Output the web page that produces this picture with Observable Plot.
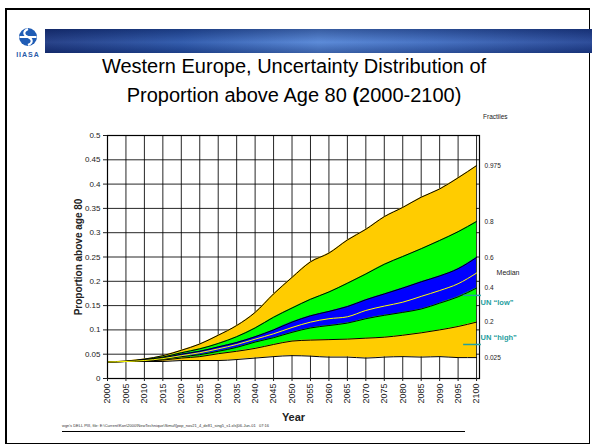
<!DOCTYPE html>
<html><head><meta charset="utf-8">
<script src="https://cdn.jsdelivr.net/npm/d3@7"></script>
<script src="https://cdn.jsdelivr.net/npm/@observablehq/plot@0.6"></script>
<style>
body{margin:0;background:#fff;font-family:"Liberation Sans",Arial,sans-serif;}
#slide{position:relative;width:592px;height:446px;overflow:hidden;background:#fff;}
#frame{position:absolute;left:5px;top:8px;width:582px;height:433px;border:2px solid #000;border-right-width:1px;border-bottom-width:1px;}
#banner{position:absolute;left:45px;top:29px;width:547px;height:24px;
 background:linear-gradient(90deg,#17337f 0%,#2451a8 25%,#4f82d6 50%,#3a69c0 70%,#1d3f92 100%);}
#banner2{position:absolute;left:45px;top:29px;width:547px;height:24px;
 background:linear-gradient(180deg,rgba(10,20,60,0.35) 0%,rgba(255,255,255,0.08) 55%,rgba(10,20,60,0.3) 100%);}
.title{position:absolute;left:0;width:582px;text-align:center;font-size:20px;color:#000;white-space:nowrap;}
#chart{position:absolute;left:0;top:110px;}
#fractiles{position:absolute;left:483px;top:113px;font-size:6.5px;color:#222;}
#footer{position:absolute;left:62px;top:423px;font-size:4px;color:#333;white-space:nowrap;}
#footline{position:absolute;left:62px;top:431px;width:403px;height:0;border-top:1px solid #000;}
</style></head><body>
<div id="slide">
 <div id="frame"></div>
 <div id="banner"></div><div id="banner2"></div>
 <svg style="position:absolute;left:15px;top:27px" width="28" height="34" viewBox="0 0 28 34">
  <circle cx="13" cy="10" r="9" fill="#1f5cb5"/>
  <path d="M4.5 9 H21.5 V11 H4.5 Z" fill="#fff"/>
  <path d="M13 2 C8 4 8 8 13 10 C18 12 18 16 13 18" stroke="#fff" stroke-width="2" fill="none"/>
  <text x="13" y="30" text-anchor="middle" font-size="7" font-family="Liberation Sans,Arial" font-weight="bold" fill="#2a5aa8" letter-spacing="1">IIASA</text>
 </svg>
 <div class="title" style="top:55px;left:3px">Western Europe, Uncertainty Distribution of</div>
 <div class="title" style="top:84px;left:3px">Proportion above Age 80 <b>(</b>2000-2100)</div>
 <div id="fractiles">Fractiles</div>
 <div id="chart"></div>
 <div id="footer">wgn's DELL PIII, file: E:\Current\Kon\2000\NewTechnique\Simul\[pop_nov21_4_de81_sing5_s1.xls]06-Jun-01 &nbsp;&nbsp;07:16</div>
 <div id="footline"></div>
</div>
<script>
const years = [2000,2005,2010,2015,2020,2025,2030,2035,2040,2045,2050,2055,2060,2065,2070,2075,2080,2085,2090,2095,2100];
const p975 = [0.034,0.036,0.040,0.047,0.058,0.071,0.089,0.109,0.136,0.174,0.208,0.240,0.258,0.285,0.307,0.333,0.352,0.373,0.390,0.413,0.438];
const p80  = [0.034,0.035,0.039,0.044,0.053,0.061,0.072,0.086,0.104,0.126,0.145,0.163,0.178,0.196,0.215,0.235,0.251,0.267,0.284,0.302,0.323];
const p60  = [0.034,0.035,0.038,0.042,0.050,0.056,0.065,0.074,0.086,0.100,0.116,0.129,0.138,0.148,0.162,0.174,0.186,0.199,0.211,0.226,0.249];
const median = [0.034,0.035,0.037,0.041,0.047,0.053,0.061,0.070,0.081,0.092,0.105,0.116,0.123,0.127,0.140,0.149,0.157,0.169,0.181,0.195,0.217];
const p40  = [0.034,0.035,0.036,0.040,0.045,0.049,0.056,0.064,0.075,0.084,0.095,0.104,0.109,0.114,0.123,0.130,0.136,0.143,0.155,0.168,0.186];
const p20  = [0.034,0.035,0.036,0.038,0.042,0.045,0.051,0.056,0.062,0.070,0.077,0.079,0.080,0.081,0.083,0.085,0.089,0.094,0.100,0.107,0.116];
const p025 = [0.034,0.035,0.035,0.035,0.037,0.037,0.037,0.039,0.042,0.045,0.047,0.046,0.044,0.044,0.042,0.044,0.045,0.044,0.045,0.043,0.043];
const yTicks = [0,0.05,0.1,0.15,0.2,0.25,0.3,0.35,0.4,0.45,0.5];
const fractileLabels = ["0.975","0.8","0.6","Median","0.4","0.2","0.025"];
const unLabels = ["UN \u201clow\u201d","UN \u201chigh\u201d"];
const unValues = [0.171,0.070];
const unYears = [2096.5,2101.3];

const data = years.map((year,i)=>({year,p975:p975[i],p80:p80[i],p60:p60[i],median:median[i],p40:p40[i],p20:p20[i],p025:p025[i]}));
const last = data[data.length-1];
const bandLabels = [
  {label:fractileLabels[0], v:last.p975},
  {label:fractileLabels[1], v:last.p80},
  {label:fractileLabels[2], v:last.p60},
  {label:fractileLabels[4], v:last.p40},
  {label:fractileLabels[5], v:last.p20},
  {label:fractileLabels[6], v:last.p025}
];
const medLabel = [{label:fractileLabels[3], v:last.median}];
const unLow = [{label:unLabels[0], v:unValues[0]}];
const unHigh = [{label:unLabels[1], v:unValues[1]}];
const un = [...unLow, ...unHigh];
const curve = "monotone-x";
const keys = ["p975","p80","p60","p40","p20","p025"];
const endX = 2100;

const chart = Plot.plot({
  width: 592, height: 336,
  marginLeft: 107, marginRight: 113, marginTop: 25, marginBottom: 68,
  x: {domain:[2000,2100.8]},
  y: {domain:[0,0.5]},
  style: {fontFamily:"'Liberation Sans',Arial,sans-serif", color:"#222", background:"transparent", overflow:"visible"},
  marks: [
    Plot.gridX(years, {stroke:"#000", strokeOpacity:0.85}),
    Plot.gridY(yTicks, {stroke:"#000", strokeOpacity:0.85}),
    Plot.areaY(data, {x:"year", y1:"p025", y2:"p975", fill:"#FFCC00", curve}),
    Plot.areaY(data, {x:"year", y1:"p20", y2:"p80", fill:"#00FF00", curve}),
    Plot.areaY(data, {x:"year", y1:"p40", y2:"p60", fill:"#0000FF", curve}),
    ...keys.map(k => Plot.lineY(data, {x:"year", y:k, stroke:"#000", strokeWidth:1, curve})),
    Plot.lineY(data, {x:"year", y:"median", stroke:"#FFFF00", strokeWidth:1, curve}),
    Plot.frame({stroke:"#000", strokeWidth:1.2}),
    Plot.axisY({ticks:yTicks, tickSize:4, tickPadding:3, fontSize:8, tickFormat:d=>d===0?"0":String(+d.toFixed(2)), label:null}),
    Plot.axisY({ticks:[], label:"Proportion above age 80", labelAnchor:"center", labelArrow:"none", labelOffset:33, fontSize:10, fontWeight:"bold", letterSpacing:"0.8px"}),
    Plot.axisX({ticks:years, tickSize:3, tickPadding:2, tickRotate:-90, fontSize:9, tickFormat:"d", label:null}),
    Plot.axisX({ticks:[], label:"Year", labelAnchor:"center", labelArrow:"none", labelOffset:42, fontSize:11, fontWeight:"bold"}),
    Plot.text(bandLabels, {x:()=>endX, y:"v", text:"label", dx:8, textAnchor:"start", fontSize:6.5, fill:"#222"}),
    Plot.text(medLabel, {x:()=>endX, y:"v", text:"label", dx:20, textAnchor:"start", fontSize:7, fill:"#222"}),
    Plot.ruleY(un, {y:"v", x1:()=>unYears[0], x2:()=>unYears[1], stroke:"#22A0A0", strokeWidth:1.5}),
    Plot.text(unLow, {x:()=>endX, y:"v", text:"label", dx:4, dy:7, textAnchor:"start", fontSize:7.5, fontWeight:"bold", fill:"#1E9E9E"}),
    Plot.text(unHigh, {x:()=>endX, y:"v", text:"label", dx:4, dy:-7, textAnchor:"start", fontSize:7.5, fontWeight:"bold", fill:"#1E9E9E"})
  ]
});
document.getElementById("chart").append(chart);
</script>
</body></html>
